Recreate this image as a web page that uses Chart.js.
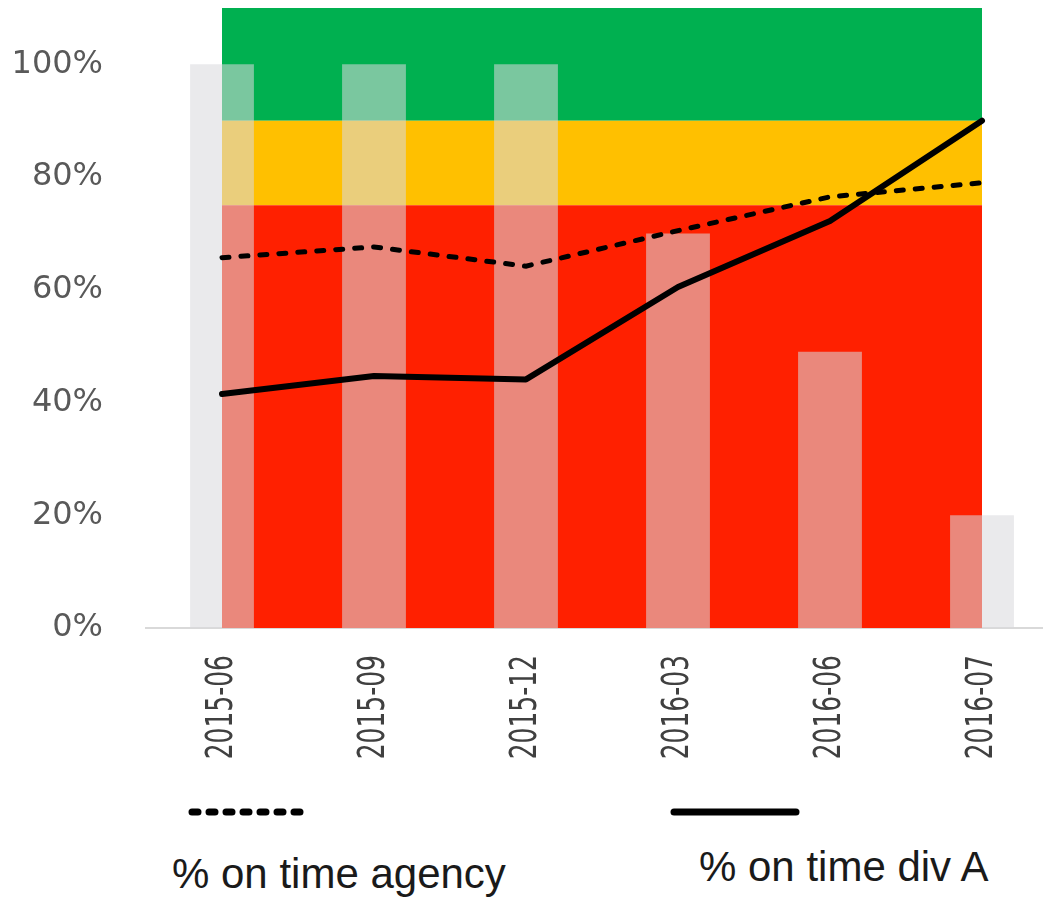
<!DOCTYPE html>
<html>
<head>
<meta charset="utf-8">
<script src="https://cdn.jsdelivr.net/npm/chart.js@4/dist/chart.umd.min.js"></script>
<style>
  html, body { margin: 0; padding: 0; background: #fff; overflow: hidden; }
  #wrap { position: absolute; left: 0; top: 0; width: 1058px; height: 780px; }
  .legend { position: absolute; font-family: "Liberation Sans", Arial, sans-serif; font-size: 42px; color: #1a1a1a; white-space: nowrap; }
  svg.sample { position: absolute; }
</style>
</head>
<body>
<div id="wrap"><canvas id="chart-cont" width="1058" height="780"></canvas></div>

<svg class="sample" style="left:184px;top:802px" width="136" height="20">
  <line x1="8" y1="10" x2="126" y2="10" stroke="#000" stroke-width="7" stroke-linecap="round" stroke-dasharray="6 11"/>
</svg>
<svg class="sample" style="left:666px;top:802px" width="140" height="20">
  <line x1="8" y1="10" x2="130" y2="10" stroke="#000" stroke-width="7" stroke-linecap="round"/>
</svg>
<div class="legend" style="left:172px;top:850px">% on time agency</div>
<div class="legend" style="left:699px;top:843px">% on time div A</div>

<script>
// data
var months = ["2015-06", "2015-09", "2015-12", "2016-03", "2016-06", "2016-07"];
var bars = [100, 100, 100, 70, 49, 20];
var agency = [65.7, 67.6, 64.2, 70.5, 76.5, 79];
var divA = [41.5, 44.7, 44.1, 60.5, 72.2, 90];

// target bands
var redBand = [75, 75, 75, 75, 75, 75];
var yellowBand = [90, 90, 90, 90, 90, 90];
var greenBand = [110, 110, 110, 110, 110, 110];

Chart.defaults.plugins.tooltip.enabled = false;
Chart.defaults.plugins.legend.display = false;
Chart.defaults.animation = false;

var canvasElement = document.getElementById("chart-cont").getContext('2d');

function band(data, color, fill) {
    return {
        type: 'line',
        data: data,
        backgroundColor: color,
        borderWidth: 0,
        pointRadius: 0,
        fill: fill,
        order: 4
    };
}

var squeeze = 0.75;

var config = {
    type: 'bar',
    data: {
        labels: months,
        datasets: [
            band(redBand, '#ff2000', 'origin'),
            band(yellowBand, '#ffc000', '-1'),
            band(greenBand, '#00b050', '-1'),
            {
                type: 'bar',
                data: bars,
                backgroundColor: 'rgba(218,218,222,0.56)',
                barPercentage: 0.42,
                categoryPercentage: 1,
                order: 3
            },
            {
                type: 'line',
                data: agency,
                borderColor: '#000',
                borderWidth: 5,
                borderDash: [7, 12],
                borderCapStyle: 'round',
                pointRadius: 0,
                fill: false,
                order: 2
            },
            {
                type: 'line',
                data: divA,
                borderColor: '#000',
                borderWidth: 6,
                borderJoinStyle: 'round',
                borderCapStyle: 'round',
                pointRadius: 0,
                fill: false,
                order: 1
            }
        ]
    },
    options: {
        responsive: false,
        layout: { padding: { top: 8, left: 0, right: 0, bottom: 0 } },
        scales: {
            x: {
                offset: true,
                grid: { display: false, drawTicks: false },
                border: { display: true, color: '#d9d9d9', width: 2 },
                ticks: {
                    minRotation: 90,
                    maxRotation: 90,
                    padding: 36,
                    color: '#404040',
                    font: { family: "'DejaVu Sans Condensed', sans-serif", size: 37 }
                },
                afterFit: function (scale) {
                    scale.height = 152;
                    scale.paddingLeft = 0;
                    scale.paddingRight = 0;
                    // squeeze the rotated labels lengthwise, like a narrow font
                    if (!scale._narrow) {
                        scale._narrow = true;
                        var drawLabels = scale.drawLabels;
                        scale.drawLabels = function (area) {
                            var ctx = this.ctx;
                            var bottom = this.bottom;
                            this.bottom = this.top + (bottom - this.top) / squeeze;
                            ctx.save();
                            ctx.translate(0, this.top);
                            ctx.scale(1, squeeze);
                            ctx.translate(0, -this.top);
                            drawLabels.call(this, area);
                            ctx.restore();
                            this.bottom = bottom;
                        };
                    }
                }
            },
            y: {
                min: 0,
                max: 110,
                grid: { display: false, drawTicks: false },
                border: { display: false },
                ticks: {
                    stepSize: 20,
                    padding: 43,
                    color: '#595959',
                    font: { family: "'DejaVu Sans', sans-serif", size: 32 },
                    callback: function (v) { return v + '%'; }
                },
                afterBuildTicks: function (axis) {
                    axis.ticks = axis.ticks.filter(function (t) { return t.value <= 100; });
                },
                afterFit: function (scale) {
                    scale.width = 146;
                    // tick padding should not push the plot down
                    scale.paddingTop = 0;
                    scale.paddingBottom = 0;
                }
            }
        }
    }
};

var chart = new Chart(canvasElement, config);
</script>
</body>
</html>
